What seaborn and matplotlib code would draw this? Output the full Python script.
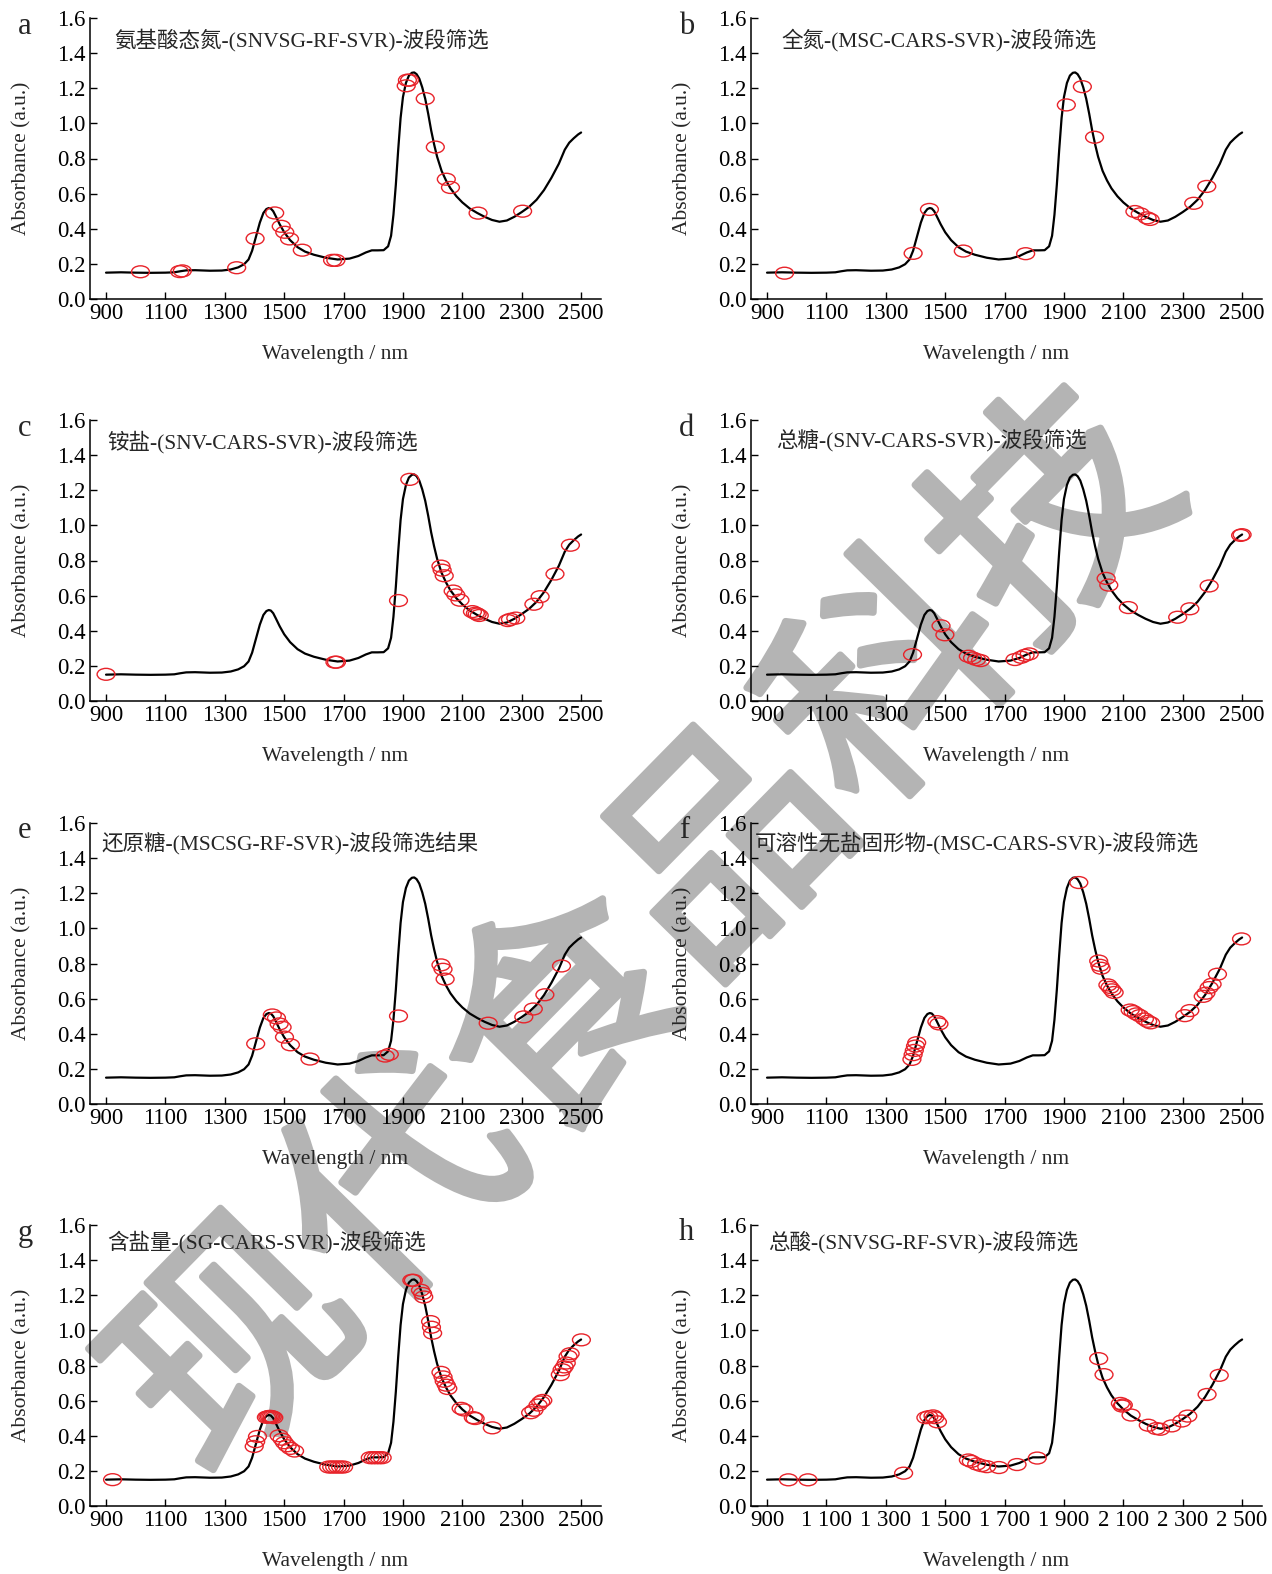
import numpy as np
import seaborn as sns
import matplotlib.pyplot as plt
import matplotlib.patheffects as pe
from matplotlib.path import Path

# mean NIR spectrum (same curve in every panel)
wavelength = [900, 950, 1000, 1050, 1100, 1130, 1150, 1170, 1200, 1250, 1290, 1320, 1345, 1365,
              1380, 1392, 1405, 1418, 1430, 1440, 1448, 1455, 1463, 1472, 1485, 1500, 1520, 1545,
              1570, 1600, 1640, 1680, 1720, 1750, 1775, 1795, 1815, 1835, 1850, 1860, 1868, 1876,
              1884, 1892, 1900, 1910, 1920, 1930, 1938, 1946, 1955, 1965, 1975, 1985, 1995, 2005,
              2015, 2030, 2045, 2060, 2080, 2100, 2125, 2150, 2175, 2200, 2225, 2250, 2275, 2300,
              2325, 2350, 2375, 2400, 2425, 2445, 2460, 2475, 2490, 2500]
absorbance = [0.150, 0.152, 0.150, 0.149, 0.150, 0.152, 0.158, 0.163, 0.164, 0.161, 0.162, 0.168,
              0.180, 0.198, 0.225, 0.275, 0.355, 0.435, 0.490, 0.512, 0.518, 0.515, 0.500, 0.470,
              0.425, 0.380, 0.335, 0.295, 0.270, 0.252, 0.235, 0.225, 0.230, 0.245, 0.265, 0.277,
              0.277, 0.278, 0.300, 0.360, 0.480, 0.650, 0.850, 1.030, 1.150, 1.230, 1.272, 1.288,
              1.290, 1.280, 1.255, 1.205, 1.140, 1.055, 0.960, 0.880, 0.810, 0.730, 0.675, 0.630,
              0.585, 0.550, 0.515, 0.490, 0.468, 0.450, 0.440, 0.447, 0.468, 0.495, 0.525, 0.565,
              0.620, 0.690, 0.770, 0.850, 0.890, 0.915, 0.937, 0.948]

panel_letters = ['a', 'b', 'c', 'd', 'e', 'f', 'g', 'h']
panel_titles = [
    '氨基酸态氮-(SNVSG-RF-SVR)-波段筛选',
    '全氮-(MSC-CARS-SVR)-波段筛选',
    '铵盐-(SNV-CARS-SVR)-波段筛选',
    '总糖-(SNV-CARS-SVR)-波段筛选',
    '还原糖-(MSCSG-RF-SVR)-波段筛选结果',
    '可溶性无盐固形物-(MSC-CARS-SVR)-波段筛选',
    '含盐量-(SG-CARS-SVR)-波段筛选',
    '总酸-(SNVSG-RF-SVR)-波段筛选',
]

# selected wavelengths (x) and their absorbance (y) per panel
sel_a_x = [1016, 1148, 1157, 1340, 1402, 1468, 1490, 1502, 1518, 1561, 1663, 1674, 1911, 1915,
           1922, 1975, 2009, 2046, 2060, 2153, 2303]
sel_a_y = [0.155, 0.156, 0.160, 0.178, 0.344, 0.490, 0.414, 0.380, 0.342, 0.278, 0.220, 0.220,
           1.214, 1.246, 1.246, 1.141, 0.865, 0.682, 0.635, 0.489, 0.500]
sel_b_x = [959, 1392, 1447, 1561, 1771, 1908, 1962, 2003, 2139, 2157, 2180, 2190, 2337, 2381]
sel_b_y = [0.147, 0.260, 0.510, 0.273, 0.258, 1.105, 1.209, 0.921, 0.498, 0.485, 0.462, 0.453,
           0.545, 0.641]
sel_c_x = [900, 1671, 1676, 1885, 1923, 2028, 2032, 2039, 2069, 2078, 2092, 2134, 2144, 2150,
           2157, 2253, 2262, 2280, 2341, 2362, 2412, 2464]
sel_c_y = [0.152, 0.221, 0.221, 0.572, 1.262, 0.768, 0.745, 0.713, 0.626, 0.604, 0.574, 0.509,
           0.500, 0.495, 0.487, 0.458, 0.465, 0.472, 0.551, 0.594, 0.723, 0.887]
sel_d_x = [1390, 1486, 1499, 1578, 1592, 1606, 1619, 1735, 1756, 1769, 1783, 2042, 2051, 2117,
           2283, 2324, 2389, 2495, 2500]
sel_d_y = [0.264, 0.428, 0.377, 0.255, 0.245, 0.236, 0.230, 0.236, 0.249, 0.260, 0.268, 0.698,
           0.660, 0.532, 0.477, 0.525, 0.655, 0.943, 0.947]
sel_e_x = [1404, 1460, 1474, 1483, 1493, 1501, 1521, 1587, 1840, 1854, 1885, 2028, 2035, 2042,
           2187, 2307, 2339, 2378, 2434]
sel_e_y = [0.343, 0.507, 0.490, 0.456, 0.437, 0.381, 0.337, 0.256, 0.273, 0.283, 0.501, 0.792,
           0.767, 0.711, 0.460, 0.496, 0.541, 0.622, 0.786]
sel_f_x = [1388, 1392, 1396, 1400, 1404, 1472, 1479, 1950, 2017, 2021, 2025, 2048, 2055, 2062,
           2069, 2123, 2133, 2144, 2155, 2171, 2182, 2192, 2307, 2324, 2369, 2378, 2389, 2399,
           2417, 2498]
sel_f_y = [0.254, 0.281, 0.305, 0.330, 0.349, 0.469, 0.456, 1.261, 0.814, 0.790, 0.773, 0.678,
           0.664, 0.650, 0.635, 0.535, 0.526, 0.513, 0.503, 0.484, 0.471, 0.462, 0.503, 0.532,
           0.613, 0.631, 0.663, 0.682, 0.739, 0.940]
sel_g_x = [922, 1399, 1404, 1410, 1440, 1445, 1450, 1455, 1460, 1465, 1483, 1493, 1501, 1510,
           1521, 1535, 1650, 1660, 1670, 1680, 1690, 1700, 1790, 1800, 1810, 1820, 1830, 1930,
           1935, 1959, 1966, 1970, 1993, 1996, 2000, 2028, 2035, 2039, 2046, 2051, 2096, 2105,
           2137, 2143, 2201, 2330, 2341, 2355, 2364, 2371, 2430, 2436, 2443, 2450, 2456, 2463,
           2501]
sel_g_y = [0.150, 0.339, 0.366, 0.396, 0.505, 0.508, 0.510, 0.510, 0.508, 0.503, 0.400, 0.380,
           0.360, 0.343, 0.328, 0.313, 0.222, 0.222, 0.222, 0.222, 0.222, 0.222, 0.275, 0.275,
           0.275, 0.275, 0.275, 1.285, 1.285, 1.229, 1.210, 1.190, 1.050, 1.018, 0.984, 0.761,
           0.735, 0.710, 0.688, 0.669, 0.556, 0.547, 0.503, 0.498, 0.445, 0.531, 0.545, 0.575,
           0.592, 0.601, 0.748, 0.776, 0.792, 0.814, 0.852, 0.867, 0.946]
sel_h_x = [972, 1038, 1360, 1435, 1445, 1459, 1465, 1474, 1578, 1588, 1606, 1622, 1640, 1681,
           1742, 1810, 2017, 2035, 2090, 2096, 2100, 2126, 2184, 2211, 2225, 2263, 2297, 2317,
           2382, 2423]
sel_h_y = [0.149, 0.149, 0.187, 0.503, 0.509, 0.513, 0.503, 0.479, 0.262, 0.254, 0.239, 0.230,
           0.224, 0.219, 0.236, 0.273, 0.839, 0.748, 0.584, 0.569, 0.575, 0.518, 0.460, 0.441,
           0.437, 0.456, 0.484, 0.512, 0.635, 0.744]

selected = [(sel_a_x, sel_a_y), (sel_b_x, sel_b_y), (sel_c_x, sel_c_y), (sel_d_x, sel_d_y),
            (sel_e_x, sel_e_y), (sel_f_x, sel_f_y), (sel_g_x, sel_g_y), (sel_h_x, sel_h_y)]

x_ticks = [900, 1100, 1300, 1500, 1700, 1900, 2100, 2300, 2500]
x_labels = ['900', '1100', '1300', '1500', '1700', '1900', '2100', '2300', '2500']
x_labels_spaced = ['900', '1 100', '1 300', '1 500', '1 700', '1 900', '2 100', '2 300', '2 500']
y_ticks = [0.0, 0.2, 0.4, 0.6, 0.8, 1.0, 1.2, 1.4, 1.6]

sns.set_theme(style='ticks')
plt.rcParams['font.family'] = ['Liberation Serif', 'Noto Sans CJK SC']
plt.rcParams['axes.unicode_minus'] = False

W, H = 1272, 1574
fig = plt.figure(figsize=(W / 100, H / 100), dpi=100)

# watermark behind everything
fig.text(0.512, 0.404, '现代食品科技', fontsize=168, color='#b4b4b4', rotation=45.5,
         ha='center', va='center', family=['Noto Sans CJK SC'], zorder=-5,
         path_effects=[pe.withStroke(linewidth=5, foreground='#b4b4b4')])

# ellipse marker
circ = Path.unit_circle()
ellipse = Path(circ.vertices * np.array([1.5, 1.0]), circ.codes)

col_left = [90, 751]
row_top = [18, 420, 823, 1225]
ax_w, ax_h = 511, 281
title_x = [0.047, 0.060, 0.033, 0.050, 0.023, 0.008, 0.033, 0.033]
title_y = [0.92, 0.92, 0.92, 0.93, 0.93, 0.93, 0.94, 0.94]

for i in range(8):
    r, c = divmod(i, 2)
    left = col_left[c] / W
    bottom = 1 - (row_top[r] + ax_h) / H
    ax = fig.add_axes([left, bottom, ax_w / W, ax_h / H])
    ax.patch.set_alpha(0)

    sns.lineplot(x=wavelength, y=absorbance, ax=ax, color='black', linewidth=1.6,
                 sort=False, estimator=None)
    sx, sy = selected[i]
    sns.scatterplot(x=sx, y=sy, ax=ax, marker=ellipse, s=165, facecolor='none',
                    edgecolor='#e8232a', linewidth=1.0, zorder=3)

    ax.set_xlim(846, 2567)
    ax.set_ylim(0, 1.6)
    ax.set_xticks(x_ticks)
    ax.set_xticklabels(x_labels_spaced if i == 7 else x_labels)
    ax.set_yticks(y_ticks)
    ax.set_yticklabels([f'{v:.1f}' for v in y_ticks])
    ax.tick_params(direction='in', length=5, width=1, labelsize=16.5, pad=3, colors='black')
    sns.despine(ax=ax)
    for s in ['left', 'bottom']:
        ax.spines[s].set_linewidth(1.1)
        ax.spines[s].set_color('black')

    ax.set_xlabel('Wavelength / nm', fontsize=15.5)
    ax.set_ylabel('Absorbance (a.u.)', fontsize=15.5)
    ax.xaxis.set_label_coords(0.48, -0.165)
    ax.yaxis.set_label_coords(-0.115, 0.5)

    ax.text(title_x[i], title_y[i], panel_titles[i], transform=ax.transAxes, fontsize=15.5,
            ha='left', va='center')
    fig.text((col_left[c] - 72) / W, 1 - (row_top[r] + 8) / H, panel_letters[i],
             fontsize=22, ha='left', va='center')

fig.savefig('out.png', dpi=100)
